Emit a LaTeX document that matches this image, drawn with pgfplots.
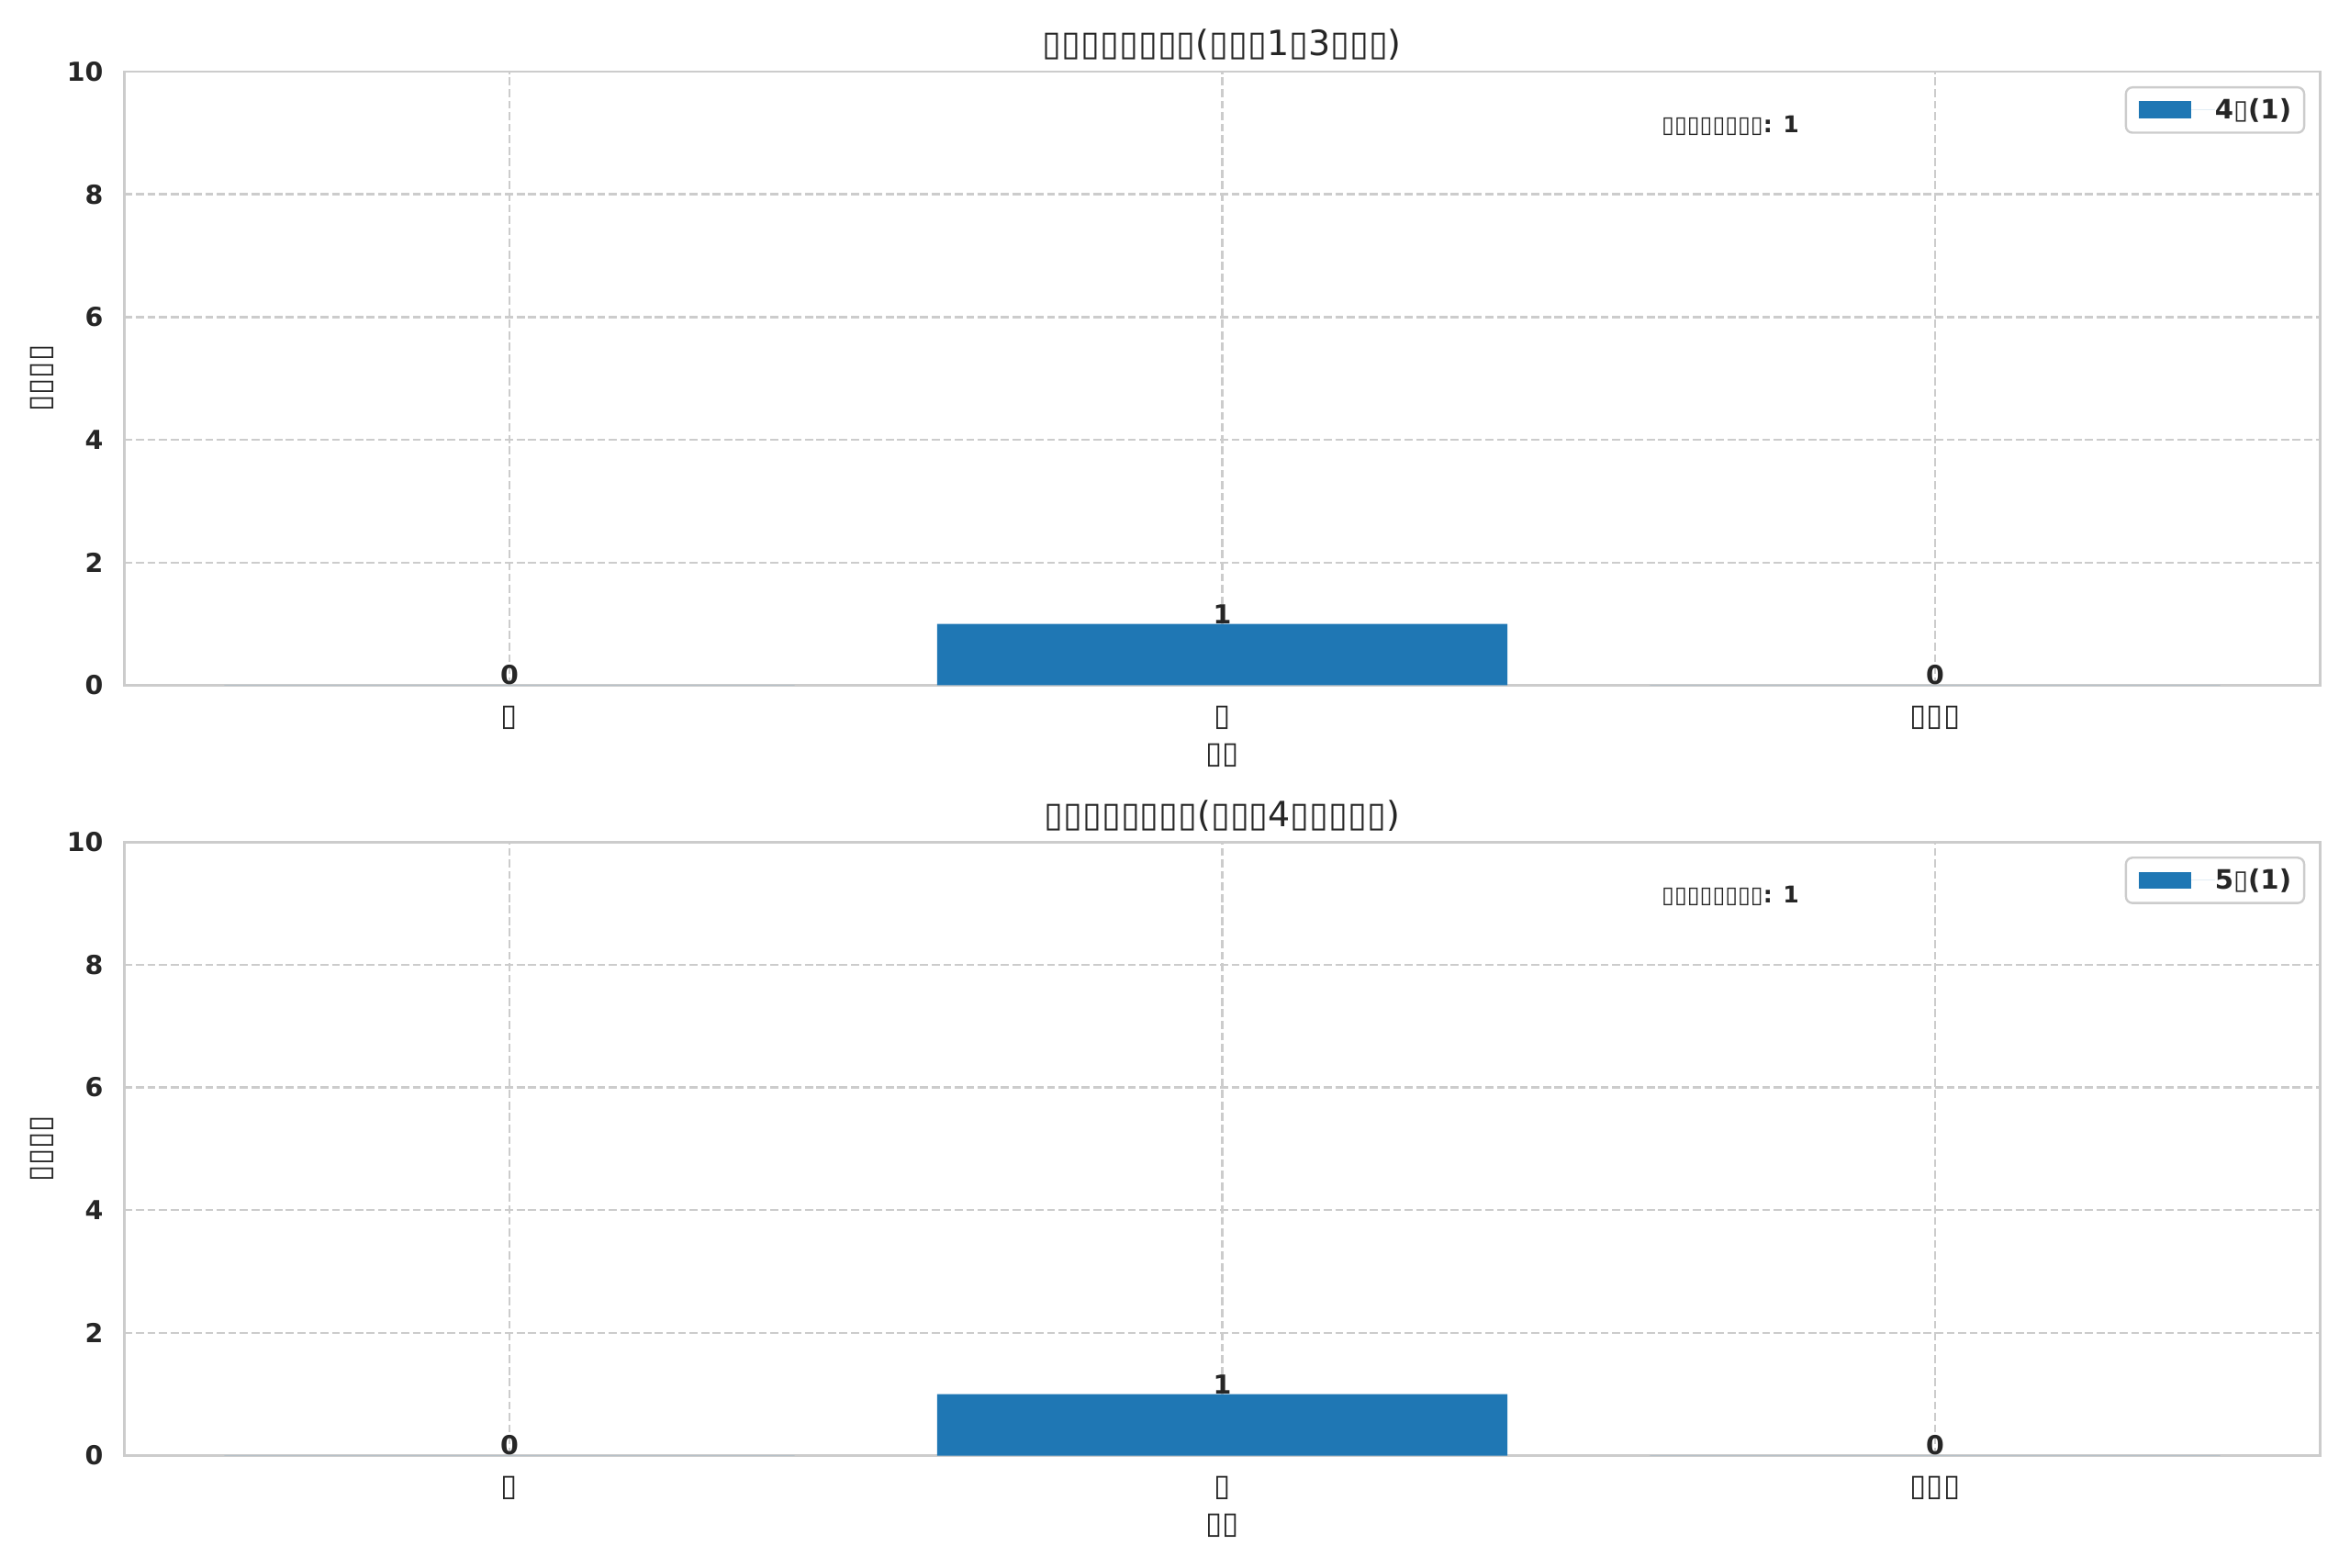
\documentclass[border=0pt]{standalone}
\usepackage{pgfplots}
\pgfplotsset{compat=1.18}
\usepackage{fontspec}
\setmainfont{DejaVu Sans}
\definecolor{barblue}{HTML}{1F77B4}
\definecolor{gridc}{HTML}{CCCCCC}
\definecolor{txt}{HTML}{262626}
\newcommand{\fs}[1]{\fontsize{#1}{#1}\selectfont}
\pgfplotsset{
  panel/.style={
    scale only axis, width=1009pt, height=282pt,
    anchor=north west,
    xmin=-0.54, xmax=2.54, ymin=0, ymax=10,
    xtick={0,1,2}, xticklabels={▯,▯,▯▯▯},
    ytick={0,2,4,6,8,10},
    major tick length=0pt,
    axis line style={gridc, line width=1.25pt},
    grid=major,
    grid style={gridc, line width=1pt, dash pattern=on 3.7pt off 1.6pt},
    /pgf/number format/assume math mode=true,
    yticklabel style={font=\fs{12}\bfseries, text=txt, anchor=east, inner sep=0pt, xshift=-9.6pt},
    xticklabel style={font=\fs{14}, text=txt, anchor=north, inner sep=0pt, yshift=-9.3pt},
    xlabel={▯▯}, ylabel={▯▯▯▯},
    xlabel style={font=\fs{14}, text=txt, at={(axis description cs:0.5,-0.1145)}, anchor=center},
    ylabel style={font=\fs{14}, text=txt, at={(axis description cs:-0.0375,0.5)}, anchor=center},
    title style={font=\fs{16}, text=txt, at={(axis description cs:0.5,1)}, anchor=base, yshift=1.2pt},
    legend style={draw=gridc, line width=1pt, rounded corners=3pt, fill=white,
      font=\fs{12.3}\bfseries, text=txt, inner xsep=5.9pt, inner ysep=5pt,
      at={(axis description cs:1,1)}, anchor=north east, xshift=-6.75pt, yshift=-6.75pt,
      nodes={inner sep=0pt}},
    ybar, bar width=0.8, bar shift=0pt,
    nodes near coords,
    nodes near coords style={font=\fs{12}\bfseries, text=txt, inner sep=0pt, anchor=south, yshift=0pt, /pgf/number format/assume math mode=true},
  },
  patchleg/.style={legend image code/.code={\fill[barblue, sharp corners] (0pt,-4pt) rectangle (24pt,4pt); \path (0pt,0pt) -- (35pt,0pt);}},
}
\begin{document}
\begin{tikzpicture}
\path[use as bounding box] (0pt,0pt) rectangle (1080pt,-720.2pt);
\begin{axis}[panel, at={(57.2pt,-32.9pt)}, title={▯▯▯▯▯▯▯▯(▯▯▯1▯3▯▯▯)}]
\addplot[fill=barblue, draw=none, patchleg] coordinates {(0,0) (1,1) (2,0)};
\addlegendentry{4▯(1)}
\node[font=\fs{10.6}\bfseries, text=txt, anchor=base west, inner sep=0pt] at (rel axis cs:0.70,0.9) {▯▯▯▯▯▯▯▯: 1};
\end{axis}
\begin{axis}[panel, at={(57.2pt,-386.9pt)}, title={▯▯▯▯▯▯▯▯(▯▯▯4▯▯▯▯▯)}]
\addplot[fill=barblue, draw=none, patchleg] coordinates {(0,0) (1,1) (2,0)};
\addlegendentry{5▯(1)}
\node[font=\fs{10.6}\bfseries, text=txt, anchor=base west, inner sep=0pt] at (rel axis cs:0.70,0.9) {▯▯▯▯▯▯▯▯: 1};
\end{axis}
\end{tikzpicture}
\end{document}
